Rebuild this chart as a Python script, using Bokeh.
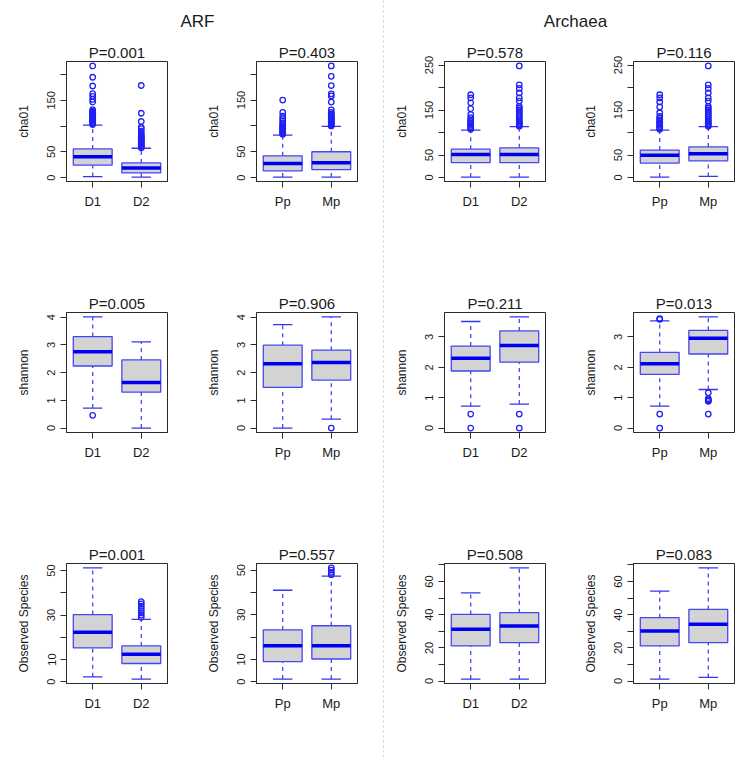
from bokeh.plotting import figure
from bokeh.layouts import row, column
from bokeh.models import Range1d, FixedTicker, Span, Label
from bokeh.embed import file_html
from bokeh.resources import INLINE

FONT = "Liberation Sans"

# ---------------- data ----------------
site_groups = ["D1", "D2"]
host_groups = ["Pp", "Mp"]
group_titles = ["ARF", "Archaea"]

# five-number summaries: [lower whisker, Q1, median, Q3, upper whisker]
arf_chao1_D1 = [2, 24, 40.7, 55.6, 102]
arf_chao1_D2 = [1, 9, 18.8, 28.5, 57]
arf_chao1_Pp = [1, 13, 27, 42, 82]
arf_chao1_Mp = [1, 15.5, 28.5, 50, 99]
arf_chao1_D1_out = [103, 105, 107, 109, 111, 113, 115, 117, 119, 121, 123, 125, 127, 129, 132, 147, 152, 158, 163, 178, 195, 217]
arf_chao1_D2_out = [58, 60, 62, 64, 66, 68, 70, 72, 74, 76, 78, 80, 83, 86, 90, 95, 98, 109, 125, 179]
arf_chao1_Pp_out = [84, 86, 88, 90, 92, 94, 96, 98, 100, 103, 106, 110, 114, 119, 126, 150]
arf_chao1_Mp_out = [100, 102, 104, 106, 108, 110, 112, 114, 116, 118, 120, 123, 126, 131, 146, 158, 162, 178, 196, 216]

arc_chao1_D1 = [1, 33, 51, 63, 105.5]
arc_chao1_D2 = [1, 33, 51, 66, 113]
arc_chao1_Pp = [1, 32, 49.5, 61, 105.5]
arc_chao1_Mp = [2.5, 37, 53, 68, 113]
arc_chao1_D1_out = [107, 110, 113, 116, 119, 122, 125, 128, 133, 140, 153, 166, 177, 184]
arc_chao1_D2_out = [114, 117, 120, 123, 126, 130, 134, 138, 142, 146, 150, 154, 158, 170, 177, 188, 198, 206, 248]
arc_chao1_Pp_out = [107, 110, 113, 116, 119, 122, 125, 128, 132, 136, 144, 157, 168, 177, 184]
arc_chao1_Mp_out = [114, 117, 120, 123, 126, 130, 134, 138, 142, 146, 150, 154, 158, 170, 177, 188, 198, 206, 248]

arf_shannon_D1 = [0.72, 2.24, 2.75, 3.3, 4.01]
arf_shannon_D2 = [0.0, 1.3, 1.64, 2.46, 3.11]
arf_shannon_Pp = [0.0, 1.47, 2.32, 2.99, 3.73]
arf_shannon_Mp = [0.32, 1.73, 2.37, 2.81, 4.01]
arf_shannon_D1_out = [0.46]
arf_shannon_D2_out = []
arf_shannon_Pp_out = []
arf_shannon_Mp_out = [0.0]

arc_shannon_D1 = [0.72, 1.88, 2.3, 2.7, 3.51]
arc_shannon_D2 = [0.79, 2.17, 2.72, 3.2, 3.66]
arc_shannon_Pp = [0.72, 1.77, 2.12, 2.49, 3.53]
arc_shannon_Mp = [1.27, 2.44, 2.96, 3.22, 3.66]
arc_shannon_D1_out = [0.46, 0.0]
arc_shannon_D2_out = [0.46, 0.0]
arc_shannon_Pp_out = [3.58, 3.6, 0.46, 0.0]
arc_shannon_Mp_out = [1.16, 0.97, 0.93, 0.9, 0.88, 0.46]

arf_obs_D1 = [2.2, 15.2, 22.3, 30.2, 51.2]
arf_obs_D2 = [1.2, 8.2, 12.4, 16.1, 28.1]
arf_obs_Pp = [1.2, 9, 16.1, 23.2, 41]
arf_obs_Mp = [1.2, 10.2, 16.1, 25.1, 47.3]
arf_obs_D1_out = []
arf_obs_D2_out = [29, 30, 31, 32, 33, 34, 35, 36]
arf_obs_Pp_out = []
arf_obs_Mp_out = [48, 49, 50, 51]

arc_obs_D1 = [1.2, 21.2, 31.2, 40.2, 53.2]
arc_obs_D2 = [1.2, 23.2, 33.2, 41.2, 68.2]
arc_obs_Pp = [1.2, 21.2, 30.2, 38.2, 54.2]
arc_obs_Mp = [2.2, 23.2, 34.2, 43.2, 68.2]
arc_obs_D1_out = []
arc_obs_D2_out = []
arc_obs_Pp_out = []
arc_obs_Mp_out = []

p_arf_chao1 = ["P=0.001", "P=0.403"]
p_arc_chao1 = ["P=0.578", "P=0.116"]
p_arf_shannon = ["P=0.005", "P=0.906"]
p_arc_shannon = ["P=0.211", "P=0.013"]
p_arf_obs = ["P=0.001", "P=0.557"]
p_arc_obs = ["P=0.508", "P=0.083"]

metric_labels = ["cha01", "shannon", "Observed Species"]

# y ticks and which of them carry a label
chao1_arf_ticks = [0, 50, 100, 150, 200]
chao1_arf_labels = [0, 50, 150]
chao1_arc_ticks = [0, 50, 100, 150, 200, 250]
chao1_arc_labels = [0, 50, 150, 250]
shannon_arf_ticks = [0, 1, 2, 3, 4]
shannon_arf_labels = [0, 1, 2, 3, 4]
shannon_arc_ticks = [0, 1, 2, 3]
shannon_arc_labels = [0, 1, 2, 3]
obs_arf_ticks = [0, 10, 20, 30, 40, 50]
obs_arf_labels = [0, 10, 30, 50]
obs_arc_ticks = [0, 10, 20, 30, 40, 50, 60, 70]
obs_arc_labels = [0, 20, 40, 60]

# ---------------- style ----------------
BOX_FILL = "#d3d3d3"
BOX_LINE = "#4646f5"
MED = "#0000f0"
WHISK = "#3535f0"
OUT = "#2020f5"
FRAME = "#2b2b2b"
TXT = "#1a1a1a"


def panel(width, bl, br, height, bt, bb, title, ylabel, cats, stats, outs, ticks, labelled):
    xs = [1, 2]
    vals = [v for s in stats for v in s] + [v for o in outs for v in o]
    lo, hi = min(vals), max(vals)
    pad = 0.04 * (hi - lo)
    p = figure(width=width, height=height,
               x_range=Range1d(0.46, 2.54), y_range=Range1d(lo - pad, hi + pad),
               output_backend="svg", toolbar_location=None,
               min_border_left=bl, min_border_right=br,
               min_border_top=bt, min_border_bottom=bb)
    p.title.text = title
    p.title.align = "center"
    p.title.text_font = FONT
    p.title.text_font_size = "15px"
    p.title.text_font_style = "normal"
    p.title.text_color = TXT
    p.title.standoff = 1
    p.xgrid.visible = False
    p.ygrid.visible = False
    p.outline_line_color = FRAME
    p.outline_line_width = 1
    p.background_fill_color = "white"
    p.border_fill_color = "white"

    p.xaxis.ticker = FixedTicker(ticks=xs)
    p.xaxis.major_label_overrides = {1: cats[0], 2: cats[1]}
    p.yaxis.ticker = FixedTicker(ticks=ticks)
    p.yaxis.major_label_overrides = {t: ("" if t not in labelled else str(t)) for t in ticks}
    p.yaxis.major_label_orientation = "vertical"
    p.yaxis.axis_label = ylabel
    p.yaxis.axis_label_text_font = FONT
    p.yaxis.axis_label_text_font_size = "12px"
    p.yaxis.axis_label_text_font_style = "normal"
    p.yaxis.axis_label_text_color = TXT
    p.yaxis.axis_label_standoff = 14
    for ax in (p.xaxis, p.yaxis):
        ax.axis_line_color = FRAME
        ax.major_tick_line_color = FRAME
        ax.major_tick_out = 6
        ax.major_tick_in = 0
        ax.minor_tick_line_color = None
        ax.major_label_text_font = FONT
        ax.major_label_text_color = TXT
    p.xaxis.major_label_text_font_size = "13px"
    p.xaxis.major_label_standoff = 6
    p.yaxis.major_label_text_font_size = "11px"
    p.yaxis.major_label_standoff = 5

    lw = [s[0] for s in stats]
    q1 = [s[1] for s in stats]
    md = [s[2] for s in stats]
    q3 = [s[3] for s in stats]
    uw = [s[4] for s in stats]
    # whiskers
    p.segment(x0=xs, y0=q3, x1=xs, y1=uw, line_color=WHISK, line_dash="4 4", line_width=1.2)
    p.segment(x0=xs, y0=lw, x1=xs, y1=q1, line_color=WHISK, line_dash="4 4", line_width=1.2)
    # caps
    p.segment(x0=[x - 0.2 for x in xs], y0=uw, x1=[x + 0.2 for x in xs], y1=uw,
              line_color=WHISK, line_width=1.3)
    p.segment(x0=[x - 0.2 for x in xs], y0=lw, x1=[x + 0.2 for x in xs], y1=lw,
              line_color=WHISK, line_width=1.3)
    # boxes
    p.vbar(x=xs, bottom=q1, top=q3, width=0.8, fill_color=BOX_FILL,
           line_color=BOX_LINE, line_width=1.3)
    # medians
    p.segment(x0=[x - 0.4 for x in xs], y0=md, x1=[x + 0.4 for x in xs], y1=md,
              line_color=MED, line_width=3.5)
    # outliers
    ox, oy = [], []
    for x, o in zip(xs, outs):
        ox += [x] * len(o)
        oy += list(o)
    if oy:
        p.scatter(x=ox, y=oy, marker="circle", size=5.5, fill_color=None,
                  line_color=OUT, line_width=1.3)
    return p


def header(width, height, text, cx, cy):
    h = figure(width=width, height=height, x_range=Range1d(0, 1), y_range=Range1d(0, 1),
               output_backend="svg", toolbar_location=None,
               x_axis_type=None, y_axis_type=None, min_border=0)
    h.outline_line_color = None
    h.xgrid.visible = False
    h.ygrid.visible = False
    h.add_layout(Label(x=cx, y=cy, x_units="screen", y_units="screen", text=text,
                       text_align="center", text_baseline="middle",
                       text_font=FONT, text_font_size="17px", text_color=TXT))
    return h


# geometry (page origin at the window's top-left corner)
W1, W2, W3, W4 = 197, 183, 185, 164
BL1, BL2, BL3, BL4 = 66, 59, 58, 62
FW = 101
H_TOP = 31
R12_H, R3_H = 251, 224
BT = 30
FH = 120

rows_left = []
rows_right = []
metric_sets = [
    (metric_labels[0], (arf_chao1_D1, arf_chao1_D2, arf_chao1_D1_out, arf_chao1_D2_out),
     (arf_chao1_Pp, arf_chao1_Mp, arf_chao1_Pp_out, arf_chao1_Mp_out), p_arf_chao1,
     chao1_arf_ticks, chao1_arf_labels,
     (arc_chao1_D1, arc_chao1_D2, arc_chao1_D1_out, arc_chao1_D2_out),
     (arc_chao1_Pp, arc_chao1_Mp, arc_chao1_Pp_out, arc_chao1_Mp_out), p_arc_chao1,
     chao1_arc_ticks, chao1_arc_labels),
    (metric_labels[1], (arf_shannon_D1, arf_shannon_D2, arf_shannon_D1_out, arf_shannon_D2_out),
     (arf_shannon_Pp, arf_shannon_Mp, arf_shannon_Pp_out, arf_shannon_Mp_out), p_arf_shannon,
     shannon_arf_ticks, shannon_arf_labels,
     (arc_shannon_D1, arc_shannon_D2, arc_shannon_D1_out, arc_shannon_D2_out),
     (arc_shannon_Pp, arc_shannon_Mp, arc_shannon_Pp_out, arc_shannon_Mp_out), p_arc_shannon,
     shannon_arc_ticks, shannon_arc_labels),
    (metric_labels[2], (arf_obs_D1, arf_obs_D2, arf_obs_D1_out, arf_obs_D2_out),
     (arf_obs_Pp, arf_obs_Mp, arf_obs_Pp_out, arf_obs_Mp_out), p_arf_obs,
     obs_arf_ticks, obs_arf_labels,
     (arc_obs_D1, arc_obs_D2, arc_obs_D1_out, arc_obs_D2_out),
     (arc_obs_Pp, arc_obs_Mp, arc_obs_Pp_out, arc_obs_Mp_out), p_arc_obs,
     obs_arc_ticks, obs_arc_labels),
]

for i, (lab, a_site, a_host, a_p, a_t, a_l, b_site, b_host, b_p, b_t, b_l) in enumerate(metric_sets):
    H = R12_H if i < 2 else R3_H
    BB = H - BT - FH
    pa = panel(W1, BL1, W1 - BL1 - FW, H, BT, BB, a_p[0], lab, site_groups,
               [a_site[0], a_site[1]], [a_site[2], a_site[3]], a_t, a_l)
    pb = panel(W2, BL2, W2 - BL2 - FW, H, BT, BB, a_p[1], lab, host_groups,
               [a_host[0], a_host[1]], [a_host[2], a_host[3]], a_t, a_l)
    pc = panel(W3, BL3, W3 - BL3 - FW, H, BT, BB, b_p[0], lab, site_groups,
               [b_site[0], b_site[1]], [b_site[2], b_site[3]], b_t, b_l)
    pd = panel(W4, BL4, W4 - BL4 - FW, H, BT, BB, b_p[1], lab, host_groups,
               [b_host[0], b_host[1]], [b_host[2], b_host[3]], b_t, b_l)
    rows_left.append(row(pa, pb, spacing=0))
    rows_right.append(row(pc, pd, spacing=0))

TOTAL_H = H_TOP + 2 * R12_H + R3_H

hl = header(W1 + W2, H_TOP, group_titles[0], 197, 10)
hr = header(W3 + W4, H_TOP, group_titles[1], 189, 10)

div = figure(width=6, height=TOTAL_H, x_range=Range1d(-1, 1), y_range=Range1d(0, 1),
             output_backend="svg", toolbar_location=None,
             x_axis_type=None, y_axis_type=None, min_border=0)
div.outline_line_color = None
div.xgrid.visible = False
div.ygrid.visible = False
div.add_layout(Span(location=0, dimension="height", line_color="#cfcfcf",
                    line_dash="2 3", line_width=1))

left = column(hl, *rows_left, spacing=0)
right = column(hr, *rows_right, spacing=0)
layout = row(left, div, right, spacing=0)

open("out.html", "w").write(file_html(layout, INLINE))
